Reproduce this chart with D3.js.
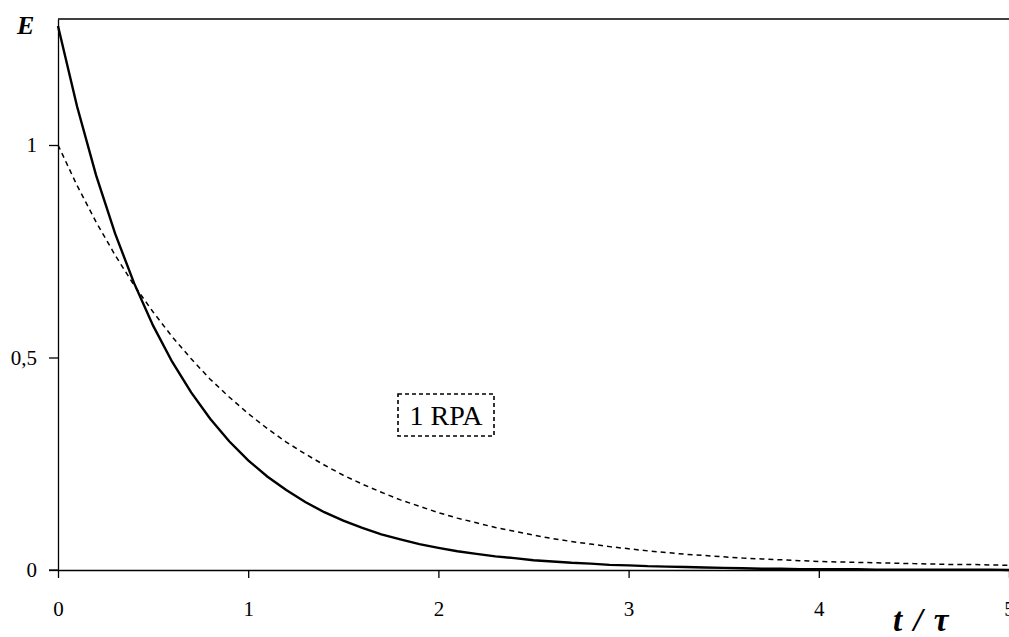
<!DOCTYPE html>
<html><head><meta charset="utf-8">
<script src="https://cdn.jsdelivr.net/npm/d3@7"></script>
<style>
html,body{margin:0;padding:0;background:#fff;overflow:hidden;}
svg{display:block;}
</style></head>
<body>
<svg id="chart" width="1009" height="637"></svg>
<script>
// Data
const tValues = [0,0.1,0.2,0.3,0.4,0.5,0.6,0.7,0.8,0.9,1,1.1,1.2,1.3,1.4,1.5,1.6,1.7,1.8,1.9,2,2.1,2.2,2.3,2.4,2.5,2.6,2.7,2.8,2.9,3,3.1,3.2,3.3,3.4,3.5,3.6,3.7,3.8,3.9,4,4.1,4.2,4.3,4.4,4.5,4.6,4.7,4.8,4.9,5];
const solidE = [1.280,1.091,0.929,0.792,0.675,0.575,0.490,0.418,0.356,0.303,0.258,0.220,0.188,0.160,0.136,0.116,0.099,0.084,0.072,0.061,0.052,0.044,0.038,0.032,0.028,0.023,0.020,0.017,0.015,0.012,0.011,0.009,0.008,0.007,0.006,0.005,0.004,0.003,0.003,0.002,0.002,0.002,0.002,0.001,0.001,0.001,0.001,0.001,0.001,0.001,0.000];
const dottedE = [1.000,0.905,0.819,0.741,0.670,0.607,0.549,0.497,0.449,0.407,0.368,0.333,0.301,0.273,0.247,0.223,0.202,0.183,0.165,0.150,0.135,0.122,0.111,0.100,0.091,0.082,0.074,0.067,0.061,0.055,0.050,0.045,0.041,0.037,0.034,0.031,0.028,0.026,0.024,0.022,0.020,0.019,0.018,0.017,0.016,0.015,0.014,0.013,0.013,0.012,0.011];
const xTicks = [0,1,2,3,4,5];
const xTickLabels = ["0","1","2","3","4","5"];
const yTicks = [0,0.5,1];
const yTickLabels = ["0","0,5","1"];
const legendLabel = "1 RPA";
const yAxisTitle = "E";
const xAxisTitle = "t / τ";

const svg = d3.select("#chart");
const pLeft = 58, pRight = 1009, pTop = 19, pBottom = 570;
const x = d3.scaleLinear().domain([0,5]).range([pLeft, pRight]);
const y = d3.scaleLinear().domain([0, (pBottom-pTop)/425]).range([pBottom, pTop]);

const serif = "Liberation Serif, Times New Roman, serif";

// frame: top line
svg.append("line").attr("x1",pLeft).attr("x2",pRight).attr("y1",pTop).attr("y2",pTop)
  .attr("stroke","#000").attr("stroke-width",1.3);

// axes
const xAxis = d3.axisBottom(x).tickValues(xTicks).tickFormat((d,i)=>xTickLabels[i]).tickSize(8).tickSizeOuter(0).tickPadding(23);
const gx = svg.append("g").attr("transform",`translate(0,${pBottom})`).call(xAxis);
const yAxis = d3.axisLeft(y).tickValues(yTicks).tickFormat((d,i)=>yTickLabels[i]).tickSize(9).tickSizeOuter(0).tickPadding(12);
const gy = svg.append("g").attr("transform",`translate(${pLeft},0)`).call(yAxis);
[gx,gy].forEach(g=>{
  g.select(".domain").attr("stroke","#000").attr("stroke-width",1.3);
  g.selectAll(".tick line").attr("stroke","#000").attr("stroke-width",1.3);
  g.selectAll("text").attr("font-family",serif).attr("font-size",21).attr("fill","#000");
});
svg.append("line").attr("x1",pLeft-9).attr("x2",pLeft).attr("y1",pBottom).attr("y2",pBottom)
  .attr("stroke","#000").attr("stroke-width",1.3);

const line = d3.line().x((d,i)=>x(tValues[i])).y(d=>y(d));

svg.append("path").datum(dottedE).attr("d",line).attr("fill","none")
  .attr("stroke","#000").attr("stroke-width",1.5).attr("stroke-dasharray","5,4");
svg.append("path").datum(solidE).attr("d",line).attr("fill","none")
  .attr("stroke","#000").attr("stroke-width",2.4);

// legend label
const lg = svg.append("g");
lg.append("rect").attr("x",398).attr("y",394).attr("width",494-398).attr("height",436-394)
  .attr("fill","#fff").attr("stroke","#000").attr("stroke-width",1.6).attr("stroke-dasharray","4,3");
lg.append("text").attr("x",446).attr("y",425).attr("text-anchor","middle")
  .attr("font-family",serif).attr("font-size",28).text(legendLabel);

// axis titles
svg.append("text").attr("x",17).attr("y",34).attr("font-family",serif).attr("font-size",26)
  .attr("font-weight","bold").attr("font-style","italic").text(yAxisTitle);
svg.append("text").attr("x",893).attr("y",631).attr("font-family",serif).attr("font-size",33)
  .attr("font-weight","bold").attr("font-style","italic").attr("word-spacing","3px").text(xAxisTitle);
</script>
</body></html>
